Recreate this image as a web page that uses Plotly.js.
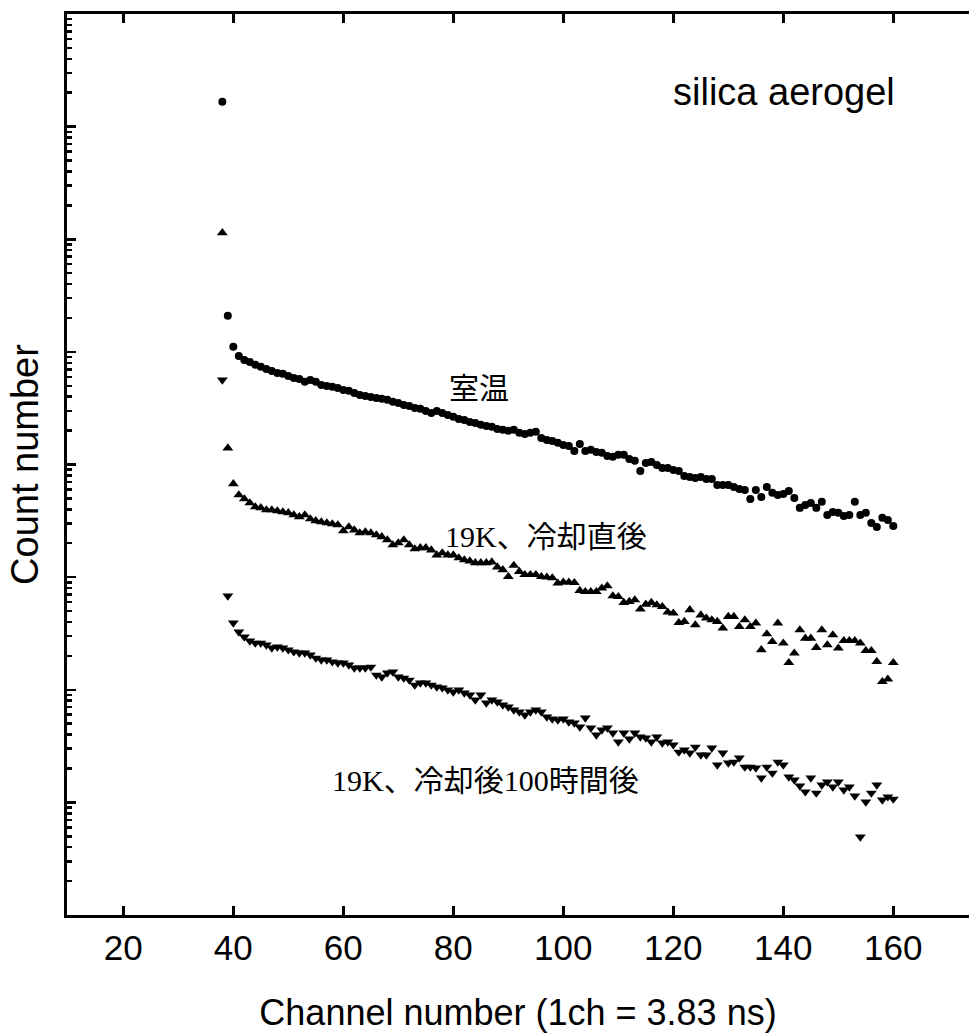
<!DOCTYPE html>
<html>
<head>
<meta charset="utf-8">
<script src="https://cdn.plot.ly/plotly-3.0.1.min.js"></script>
<style>html,body{margin:0;padding:0;background:#fff;}#chart{width:969px;height:1033px;}</style>
</head>
<body>
<div id="chart"></div>
<script>
// Channel numbers (x)
const channels = [
  38, 39, 40, 41, 42, 43, 44, 45, 46, 47,
  48, 49, 50, 51, 52, 53, 54, 55, 56, 57,
  58, 59, 60, 61, 62, 63, 64, 65, 66, 67,
  68, 69, 70, 71, 72, 73, 74, 75, 76, 77,
  78, 79, 80, 81, 82, 83, 84, 85, 86, 87,
  88, 89, 90, 91, 92, 93, 94, 95, 96, 97,
  98, 99, 100, 101, 102, 103, 104, 105, 106, 107,
  108, 109, 110, 111, 112, 113, 114, 115, 116, 117,
  118, 119, 120, 121, 122, 123, 124, 125, 126, 127,
  128, 129, 130, 131, 132, 133, 134, 135, 136, 137,
  138, 139, 140, 141, 142, 143, 144, 145, 146, 147,
  148, 149, 150, 151, 152, 153, 154, 155, 156, 157,
  158, 159, 160
];

// 室温 (circles)
const countsRoomTemp = [
  16600000, 209000, 111000, 92000, 84900, 81500, 76700, 73600, 70600, 67800,
  65000, 63800, 61200, 58700, 57500, 54200, 56400, 54200, 50900, 49900,
  48900, 47900, 45900, 45100, 43200, 41500, 40600, 39800, 39000, 38300,
  37500, 36000, 35200, 33800, 33100, 31800, 31200, 29900, 28700, 29900,
  28700, 27500, 26500, 25400, 24900, 23900, 23400, 22500, 22000, 21600,
  20700, 20300, 19900, 20300, 19100, 18700, 19100, 19500, 17200, 16500,
  16200, 15600, 14900, 14600, 13200, 15200, 13200, 13500, 12900, 12700,
  11900, 11700, 12200, 12200, 11200, 10800, 8770, 10300, 10500, 9910,
  9330, 9330, 8950, 8770, 7920, 7760, 7600, 7760, 7450, 7450,
  6590, 6590, 6590, 6320, 6070, 5940, 4940, 5940, 5150, 6320,
  5600, 5370, 5480, 5830, 5050, 4120, 4380, 4560, 4120, 4660,
  3570, 3790, 3720, 3490, 3570, 4660, 3570, 3720, 3030, 2790,
  3360, 3220, 2850
];

// 19K、冷却直後 (up triangles)
const counts19KJustCooled = [
  1140000, 14000, 6730, 5370, 4940, 4560, 4200, 4120, 3950, 3950,
  3870, 3790, 3720, 3570, 3430, 3570, 3290, 3160, 3090, 3030,
  2970, 2910, 2570, 2790, 2620, 2470, 2520, 2470, 2370, 2280,
  2140, 1930, 2010, 2140, 1930, 1780, 1820, 1820, 1740, 1570,
  1640, 1570, 1570, 1480, 1420, 1390, 1340, 1340, 1340, 1360,
  1230, 1160, 1010, 1270, 1120, 1050, 1050, 1050, 1010, 1000,
  984, 883, 901, 901, 893, 759, 743, 743, 743, 797,
  836, 681, 671, 594, 606, 627, 519, 574, 594, 566,
  547, 488, 478, 394, 403, 512, 376, 461, 432, 417,
  403, 352, 446, 446, 363, 417, 363, 390, 226, 313,
  267, 390, 259, 174, 211, 340, 286, 286, 237, 340,
  250, 307, 234, 273, 273, 273, 259, 222, 222, 178,
  118, 124, 174
];

// 19K、冷却後100時間後 (down triangles)
const counts19KAfter100h = [
  56400, 681, 392, 326, 294, 271, 260, 260, 250, 235,
  240, 235, 226, 217, 212, 212, 204, 191, 184, 184,
  177, 173, 173, 166, 156, 156, 156, 159, 135, 130,
  141, 144, 130, 127, 122, 110, 115, 115, 110, 106,
  104, 99.5, 95.5, 99.5, 93.7, 89.9, 81.1, 89.9, 76.4, 81.1,
  78.0, 73.3, 70.3, 66.2, 63.5, 59.7, 63.5, 66.2, 63.5, 57.3,
  55.1, 53.9, 55.1, 51.8, 50.7, 46.8, 56.2, 45.8, 39.7, 44.0,
  45.8, 41.3, 34.4, 41.3, 36.6, 41.3, 38.1, 37.3, 34.4, 38.1,
  33.7, 34.4, 32.4, 28.0, 29.2, 27.5, 31.0, 26.4, 26.4, 30.4,
  21.5, 27.5, 22.4, 22.8, 24.8, 20.6, 20.6, 20.2, 16.5, 20.6,
  18.2, 22.8, 21.5, 16.8, 15.8, 14.0, 12.4, 16.5, 12.1, 14.3,
  15.2, 13.7, 15.2, 12.9, 13.7, 11.4, 4.93, 10.1, 12.1, 14.3,
  10.5, 11.2, 10.7
];

const xTickVals = [20, 40, 60, 80, 100, 120, 140, 160];
const seriesLabels = ['室温', '19K、冷却直後', '19K、冷却後100時間後'];
const chartLabel = 'silica aerogel';
const xTitle = 'Channel number (1ch = 3.83 ns)';
const yTitle = 'Count number';

const traces = [
  {x: channels, y: countsRoomTemp, name: seriesLabels[0], mode: 'markers', type: 'scatter',
   marker: {symbol: 'circle', size: 8, color: '#000'}},
  {x: channels, y: counts19KJustCooled, name: seriesLabels[1], mode: 'markers', type: 'scatter',
   marker: {symbol: 'triangle-up', size: 9.5, color: '#000'}},
  {x: channels, y: counts19KAfter100h, name: seriesLabels[2], mode: 'markers', type: 'scatter',
   marker: {symbol: 'triangle-down', size: 9.5, color: '#000'}}
];

const L = 67, R = 969, T = 14, B = 915;
function px(X) { return (X - L) / (R - L); }
function py(Y) { return (B - Y) / (B - T); }

const serifFont = {family: 'Liberation Serif, "Noto Sans CJK JP", serif', size: 30, color: '#000'};

const layout = {
  width: 969, height: 1033,
  margin: {l: L, r: 969 - R, t: T, b: 1033 - B, pad: 0},
  paper_bgcolor: '#fff', plot_bgcolor: '#fff',
  showlegend: false,
  font: {family: 'Liberation Sans, Arial, sans-serif', color: '#000'},
  xaxis: {
    range: [9.76, 173.76],
    tickvals: xTickVals, ticktext: xTickVals.map(String),
    ticks: 'inside', ticklen: 9, tickwidth: 2.5, tickcolor: '#000',
    showline: true, linewidth: 3, linecolor: '#000', mirror: 'ticks',
    showgrid: false, zeroline: false,
    tickfont: {family: 'Liberation Sans, Arial, sans-serif', size: 35, color: '#000'},
    title: {text: xTitle, font: {family: 'Liberation Sans, Arial, sans-serif', size: 36, color: '#000'}, standoff: 38},
    automargin: false
  },
  yaxis: {
    type: 'log', range: [0, 8], dtick: 1,
    ticks: 'inside', ticklen: 9, tickwidth: 2.5, tickcolor: '#000',
    minor: {ticks: 'inside', ticklen: 5, tickwidth: 2.5, tickcolor: '#000', showgrid: false},
    showticklabels: false,
    showline: true, linewidth: 3, linecolor: '#000', mirror: false,
    showgrid: false, zeroline: false,
    title: {text: yTitle, font: {family: 'Liberation Sans, Arial, sans-serif', size: 38, color: '#000'}, standoff: 14},
    automargin: false
  },
  annotations: [
    {text: chartLabel, xref: 'paper', yref: 'paper', x: px(784), y: py(92), showarrow: false,
     xanchor: 'center', yanchor: 'middle', font: {family: 'Liberation Sans, Arial, sans-serif', size: 38, color: '#000'}},
    {text: seriesLabels[0], xref: 'paper', yref: 'paper', x: px(447), y: py(388), showarrow: false,
     xanchor: 'left', yanchor: 'middle', font: serifFont},
    {text: seriesLabels[1], xref: 'paper', yref: 'paper', x: px(443), y: py(536), showarrow: false,
     xanchor: 'left', yanchor: 'middle', font: serifFont},
    {text: seriesLabels[2], xref: 'paper', yref: 'paper', x: px(330), y: py(780), showarrow: false,
     xanchor: 'left', yanchor: 'middle', font: serifFont}
  ]
};

Plotly.newPlot('chart', traces, layout, {displayModeBar: false, staticPlot: true});
</script>
</body>
</html>
